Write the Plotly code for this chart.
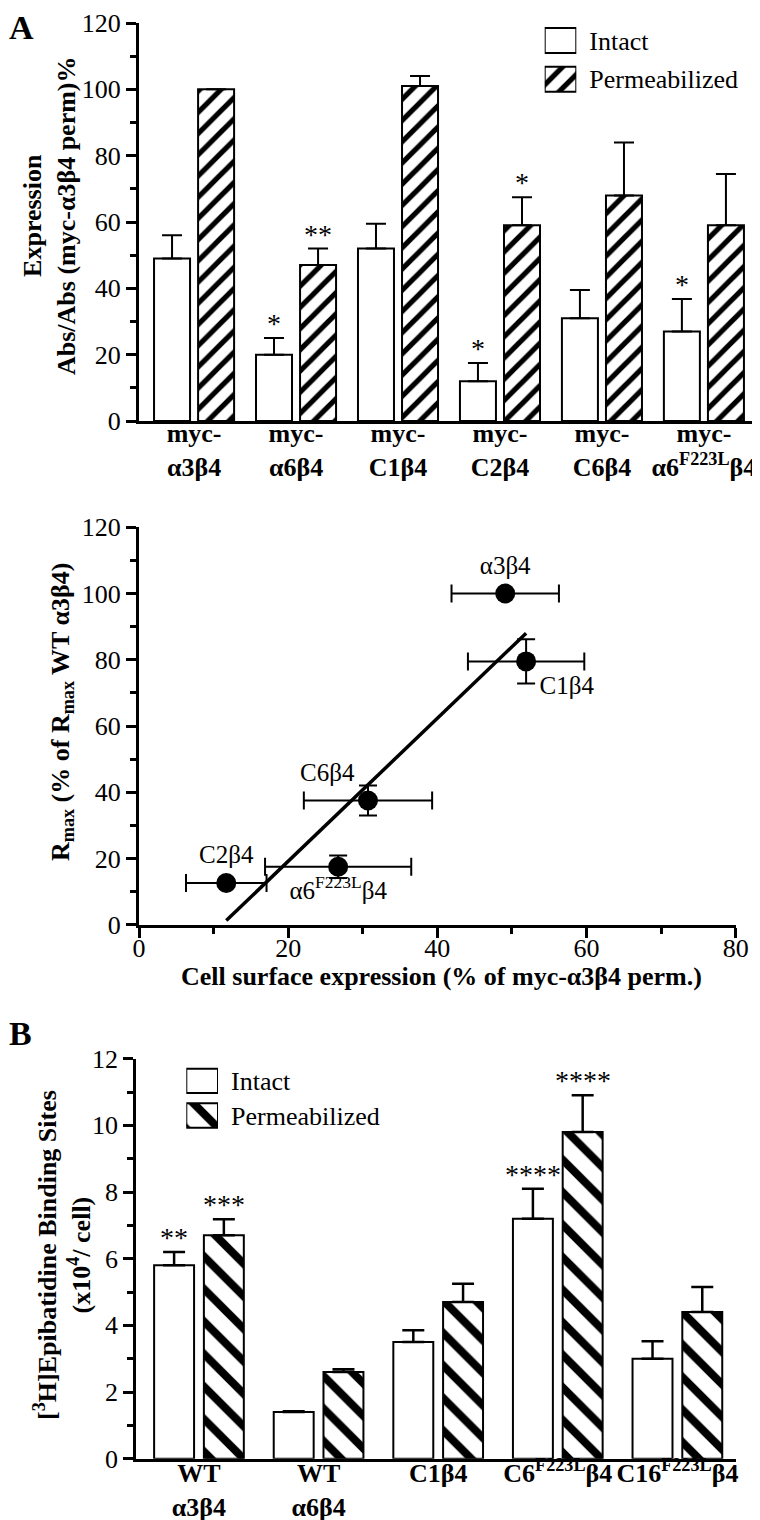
import numpy as np
import plotly.graph_objects as go

# ---- panel A: expression bars ----
a_labels = ["myc-<br>α3β4", "myc-<br>α6β4", "myc-<br>C1β4", "myc-<br>C2β4",
            "myc-<br>C6β4", "myc-<br>α6<sup>F223L</sup>β4"]
a_intact = [49, 20, 52, 12, 31, 27]
a_intact_err = [7, 5, 7.5, 5.5, 8.5, 9.8]
a_perm = [100, 47, 101, 59, 68, 59]
a_perm_err = [0, 5, 3, 8.5, 16, 15.5]
a_intact_stars = ["", "*", "", "*", "", "*"]
a_perm_stars = ["", "**", "", "*", "", ""]

# ---- scatter: Rmax vs surface expression ----
s_names = ["α3β4", "C1β4", "C2β4", "C6β4", "α6<sup>F223L</sup>β4"]
s_x = [49.1, 51.9, 11.7, 30.7, 26.7]
s_x_err = [7.2, 7.8, 5.4, 8.6, 9.8]
s_y = [100, 79.5, 12.6, 37.5, 17.5]
s_y_err = [0, 6.7, 0, 4.5, 3.4]

# ---- panel B: binding sites ----
b_labels = ["WT<br>α3β4", "WT<br>α6β4", "C1β4", "C6<sup>F223L</sup>β4", "C16<sup>F223L</sup>β4"]
b_intact = [5.8, 1.4, 3.5, 7.2, 3.0]
b_intact_err = [0.4, 0.02, 0.35, 0.9, 0.52]
b_perm = [6.7, 2.6, 4.7, 9.8, 4.4]
b_perm_err = [0.48, 0.08, 0.55, 1.1, 0.75]
b_intact_stars = ["**", "", "", "****", ""]
b_perm_stars = ["***", "", "", "****", ""]

series_names = ["Intact", "Permeabilized"]

W, H = 760, 1520
FONT = "Liberation Serif"


def px_x(p):
    return p / W


def px_y(p):
    return 1 - p / H


white_bar = dict(color="white", line=dict(color="black", width=2))
pat_a = dict(color="white", line=dict(color="black", width=2),
             pattern=dict(shape="/", fgcolor="black", bgcolor="white", size=15, solidity=0.35))
pat_b = dict(color="white", line=dict(color="black", width=2),
             pattern=dict(shape="\\", fgcolor="black", bgcolor="white", size=23, solidity=0.35))

fig = go.Figure()
annotations = []

# panel A bars
idx_a = np.arange(len(a_labels))
off_a, w_a = 0.216, 0.353
for vals, errs, stars, marker, sign in [(a_intact, a_intact_err, a_intact_stars, white_bar, -1),
                                        (a_perm, a_perm_err, a_perm_stars, pat_a, 1)]:
    xs = idx_a + sign * off_a
    fig.add_trace(go.Bar(
        x=xs, y=vals, width=w_a, marker=marker, xaxis="x", yaxis="y", showlegend=False,
        error_y=dict(type="data", symmetric=False, array=errs, arrayminus=[0] * len(errs),
                     color="black", thickness=2, width=10)
    ))
    for x, v, e, s in zip(xs, vals, errs, stars):
        if s:
            annotations.append(dict(x=x, y=v + e, xref="x", yref="y", text=s, showarrow=False,
                                    yanchor="bottom", yshift=-3, font=dict(size=28)))

# scatter panel
fig.add_trace(go.Scatter(
    x=s_x, y=s_y, mode="markers+text", text=s_names,
    textposition=["top center", "bottom right", "top center", "top left", "bottom center"],
    textfont=dict(size=25), xaxis="x2", yaxis="y2", showlegend=False,
    marker=dict(color="black", size=20),
    error_x=dict(type="data", array=s_x_err, color="black", thickness=2, width=9),
    error_y=dict(type="data", array=s_y_err, color="black", thickness=2, width=9),
))
slope, icpt = np.polyfit(s_x, s_y, 1)
fit_x = np.array([min(s_x), max(s_x)])
fig.add_trace(go.Scatter(x=fit_x, y=slope * fit_x + icpt, mode="lines",
                         line=dict(color="black", width=3.5), xaxis="x2", yaxis="y2",
                         showlegend=False))

# panel B bars
idx_b = np.arange(len(b_labels))
off_b, w_b = 0.208, 0.334
for vals, errs, stars, marker, sign in [(b_intact, b_intact_err, b_intact_stars, white_bar, -1),
                                        (b_perm, b_perm_err, b_perm_stars, pat_b, 1)]:
    xs = idx_b + sign * off_b
    fig.add_trace(go.Bar(
        x=xs, y=vals, width=w_b, marker=marker, xaxis="x3", yaxis="y3", showlegend=False,
        error_y=dict(type="data", symmetric=False, array=errs, arrayminus=[0] * len(errs),
                     color="black", thickness=2.5, width=11)
    ))
    for x, v, e, s in zip(xs, vals, errs, stars):
        if s:
            annotations.append(dict(x=x, y=v + e, xref="x3", yref="y3", text=s, showarrow=False,
                                    yanchor="bottom", yshift=-3, font=dict(size=28)))

# legend keys drawn as small bars, one per series
for ax, marker, bw in [(("x4", "y4"), pat_a, 0.646), (("x5", "y5"), pat_b, 0.705)]:
    for i, name in enumerate(series_names):
        fig.add_trace(go.Bar(x=[1], y=[i], base=0, width=bw, orientation="h",
                             marker=white_bar if i == 0 else marker,
                             xaxis=ax[0], yaxis=ax[1], showlegend=False, hoverinfo="skip"))

axis_base = dict(showline=True, linecolor="black", linewidth=3, showgrid=False, zeroline=False,
                 ticks="outside", tickcolor="black", tickwidth=3, ticklen=10,
                 tickfont=dict(family=FONT, size=26, color="black"))
minor = lambda d: dict(dtick=d, ticks="outside", ticklen=6, tickwidth=3, tickcolor="black")

cat_axis = dict(axis_base, ticks="",
                tickfont=dict(family=FONT, size=26, color="black", weight="bold"))

legend_y = dict(showline=False, showgrid=False, zeroline=False, side="right", ticks="",
                ticklabelstandoff=12, tickvals=[0, 1], ticktext=series_names,
                range=[1.5, -0.5], tickfont=dict(family=FONT, size=26, color="black"),
                fixedrange=True)
legend_x = dict(visible=False, range=[0, 1], fixedrange=True)

title_font = dict(family=FONT, size=26, color="black")
annotations += [
    dict(x=px_x(0), y=px_y(0), xref="paper", yref="paper", xanchor="left", yanchor="top",
         text="<b>A</b>", showarrow=False, borderpad=0, font=dict(family=FONT, size=34)),
    dict(x=px_x(0), y=px_y(1006), xref="paper", yref="paper", xanchor="left", yanchor="top",
         text="<b>B</b>", showarrow=False, borderpad=0, font=dict(family=FONT, size=34)),
    dict(x=px_x(42), y=px_y(208), xref="paper", yref="paper", textangle=-90,
         xanchor="center", yanchor="middle",
         text="<b>Expression<br>Abs/Abs (myc-α3β4 perm)%</b>", showarrow=False, font=title_font),
    dict(x=px_x(54), y=px_y(704), xref="paper", yref="paper", textangle=-90,
         xanchor="center", yanchor="middle",
         text="<b>R<sub>max</sub> (% of R<sub>max</sub> WT α3β4)</b>", showarrow=False,
         font=title_font),
    dict(x=px_x(433), y=px_y(968), xref="paper", yref="paper",
         xanchor="center", yanchor="middle",
         text="<b>Cell surface expression (% of myc-α3β4 perm.)</b>", showarrow=False,
         font=title_font),
    dict(x=px_x(54), y=px_y(1247), xref="paper", yref="paper", textangle=-90,
         xanchor="center", yanchor="middle",
         text="<b>[<sup>3</sup>H]Epibatidine Binding Sites<br>(x10<sup>4</sup>/ cell)</b>",
         showarrow=False, font=title_font),
]

fig.update_layout(
    width=W, height=H, margin=dict(l=0, r=0, t=0, b=0),
    template="none", paper_bgcolor="white", plot_bgcolor="white",
    font=dict(family=FONT, color="black", size=26),
    barmode="overlay", showlegend=False,
    xaxis=dict(cat_axis, domain=[px_x(131), px_x(752)], range=[-0.54, 5.55], anchor="y",
               tickvals=idx_a, ticktext=a_labels, ticklabelstandoff=-13),
    yaxis=dict(axis_base, domain=[px_y(413), px_y(15)], range=[0, 120], dtick=20,
               minor=minor(10), anchor="x"),
    xaxis2=dict(axis_base, domain=[px_x(131), px_x(727.7)], range=[0, 80], dtick=20,
                minor=minor(10), anchor="y2", ticklabelstandoff=-12),
    yaxis2=dict(axis_base, domain=[px_y(916.7), px_y(519.3)], range=[0, 120], dtick=20,
                minor=minor(10), anchor="x2"),
    xaxis3=dict(cat_axis, domain=[px_x(128.3), px_x(728)], range=[-0.524, 4.49], anchor="y3",
                tickvals=idx_b, ticktext=b_labels, ticklabelstandoff=-11),
    yaxis3=dict(axis_base, domain=[px_y(1450.7), px_y(1050.7)], range=[0, 12], dtick=2,
                minor=minor(1), anchor="x3"),
    xaxis4=dict(legend_x, domain=[px_x(536.7), px_x(568.3)], anchor="y4"),
    yaxis4=dict(legend_y, domain=[px_y(90.5), px_y(13.2)], anchor="x4"),
    xaxis5=dict(legend_x, domain=[px_x(178.3), px_x(210)], anchor="y5"),
    yaxis5=dict(legend_y, domain=[px_y(1124.8), px_y(1055.6)], anchor="x5"),
    annotations=annotations,
)

fig.write_html("out.html")
